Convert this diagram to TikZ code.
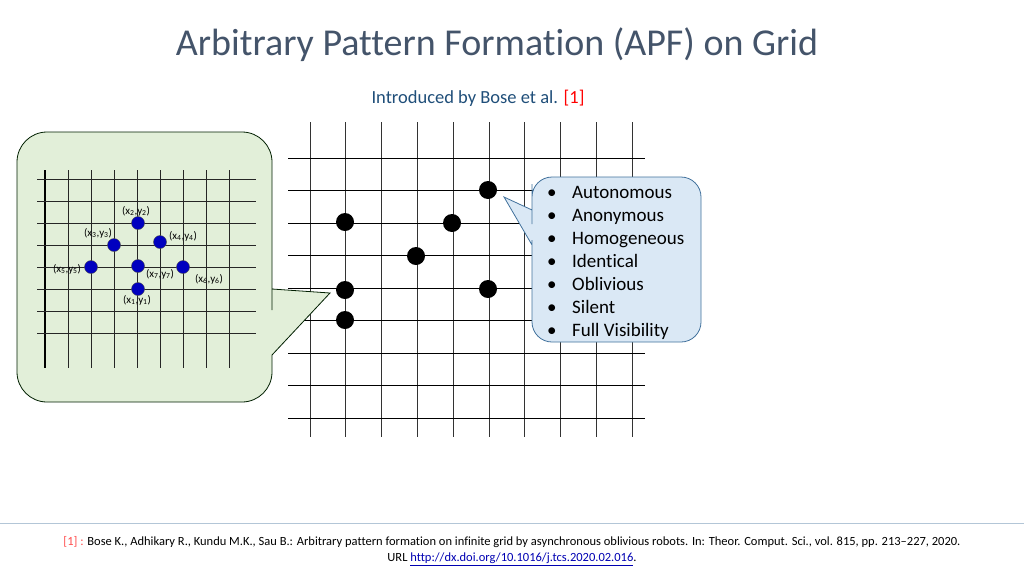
\documentclass[tikz,border=0pt]{standalone}
\usepackage{fontspec}
\setmainfont[Ligatures=NoCommon]{Carlito}
\begin{document}
\begin{tikzpicture}[x=1pt,y=-1pt,
 rdot/.style={circle,fill=black,minimum size=18pt,inner sep=0pt},
 bdot/.style={circle,fill=blue!75!black,draw=black!70,minimum size=13pt,inner sep=0pt},
 lbl/.style={font=\fontsize{11}{12}\selectfont,inner sep=0pt},
 item/.style={font=\fontsize{19}{22}\selectfont,anchor=base west,inner sep=0pt}]
\useasboundingbox (0,0) rectangle (1024,576);
\definecolor{titlec}{HTML}{44546A}
\definecolor{subc}{HTML}{1F4E79}
\definecolor{gfill}{HTML}{E2EFD9}
\definecolor{bfill}{HTML}{DAE8F5}
\definecolor{bdraw}{HTML}{41719C}
\node[text=titlec,font=\fontsize{38}{44}\selectfont] (title) at (497,45) {Arbitrary Pattern Formation (APF) on Grid};
\node[font=\fontsize{18.5}{22}\selectfont] (sub) at (478,98) {\textcolor{subc}{Introduced by Bose et al.} \textcolor{red}{[1]}};
% right grid
\foreach \x in {310,345.8,...,633} \draw[black!80,line width=0.7pt] (\x,122) -- (\x,437);
\foreach \y in {158,190.5,...,420} \draw[black,line width=0.8pt] (288,\y) -- (645,\y);
\foreach \p/\n in {{488,190}/r1,{345,222}/r2,{452,223}/r3,{416,256}/r4,{345,290}/r5,{488,289}/r6,{345,320}/r7} \node[rdot] (\n) at (\p) {};
% left callout
\draw[draw=black!70!green!40!black,fill=gfill,line width=0.8pt]
 (17,250) [rounded corners=30] -- (17,132) -- (272,132) -- (272,280) [sharp corners] -- (272,289) -- (330,293) -- (272,355) -- (272,365) [rounded corners=30] -- (272,402) -- (17,402) -- cycle;
\foreach \x in {68,91,...,231} \draw[black!85,line width=0.8pt] (\x,170) -- (\x,368);
\draw[black,line width=1.5pt] (45,170) -- (45,368);
\foreach \y in {179,201,...,354} \draw[black!85,line width=0.8pt] (37,\y) -- (256,\y);
\foreach \p/\n in {{138,223}/b2,{114,245}/b3,{160,242}/b4,{91,267}/b5,{138,266}/b7,{183,267}/b6,{138,289}/b1} \node[bdot] (\n) at (\p) {};
\node[lbl] (l2) at (136,211) {(x\textsubscript{2},y\textsubscript{2})};
\node[lbl] (l3) at (98,233) {(x\textsubscript{3},y\textsubscript{3})};
\node[lbl] (l4) at (183,236) {(x\textsubscript{4},y\textsubscript{4})};
\node[lbl] (l5) at (67,269) {(x\textsubscript{5},y\textsubscript{5})};
\node[lbl] (l7) at (160,274) {(x\textsubscript{7},y\textsubscript{7})};
\node[lbl] (l6) at (209,279) {(x\textsubscript{6},y\textsubscript{6})};
\node[lbl] (l1) at (137,300) {(x\textsubscript{1},y\textsubscript{1})};
% right callout
\draw[draw=bdraw,fill=bfill,line width=0.8pt]
 (532,260) [rounded corners=20] -- (532,342) -- (701,342) -- (701,177) -- (532,177) -- (532,204) [sharp corners] -- (532,210) -- (504,197) -- (532,245) -- (532,252) [rounded corners=20] -- cycle;
\foreach \t [count=\i] in {Autonomous,Anonymous,Homogeneous,Identical,Oblivious,Silent,Full Visibility}
 \node[item] (it\i) at (547,175+23*\i) {\makebox[25pt][l]{•}\t};
% footer
\draw[color=bdraw!40,line width=0.8pt] (0,523) -- (1024,523);
\node[font=\fontsize{12.5}{16}\selectfont,align=center] (foot) at (512,551) {\textcolor{red!70}{[1] :} Bose K., Adhikary R., Kundu M.K., Sau B.: Arbitrary pattern formation on infinite grid by asynchronous oblivious robots. In: Theor. Comput. Sci., vol. 815, pp. 213–227, 2020.\\URL \textcolor{blue!70!black}{\underline{http://dx.doi.org/10.1016/j.tcs.2020.02.016}}.};
\end{tikzpicture}
\end{document}
